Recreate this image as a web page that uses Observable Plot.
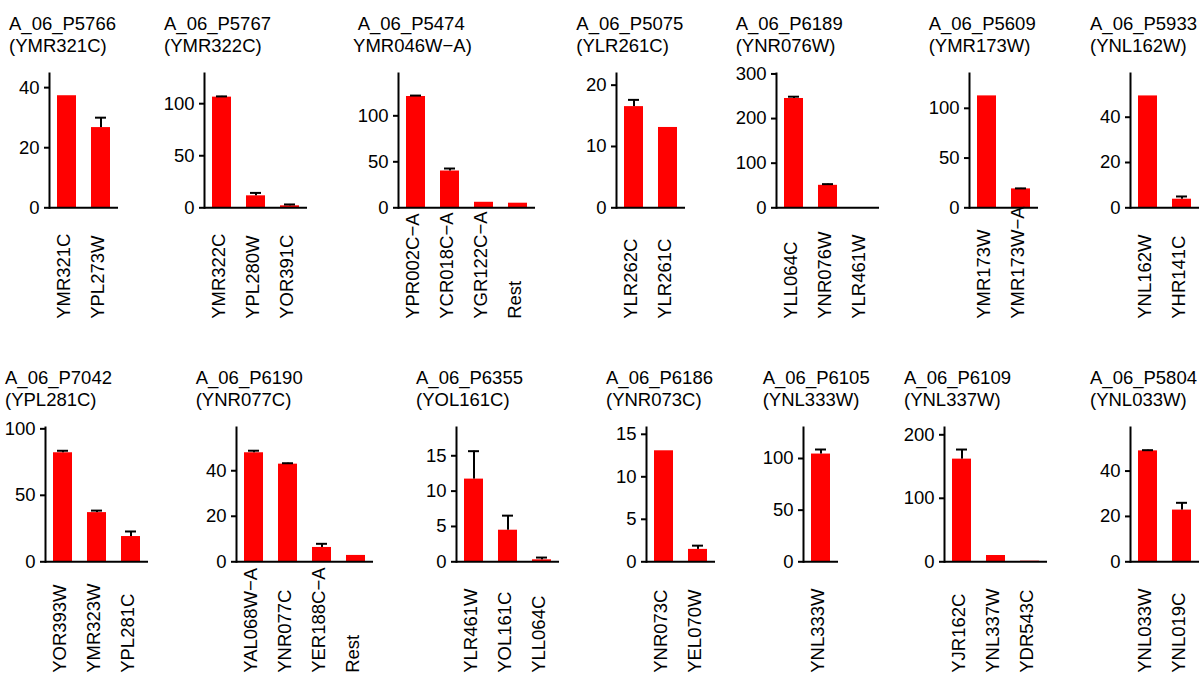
<!DOCTYPE html>
<html><head><meta charset="utf-8">
<script src="https://cdn.jsdelivr.net/npm/d3@7"></script>
<script src="https://cdn.jsdelivr.net/npm/@observablehq/plot@0.6"></script>
<style>
body{margin:0;background:#fff;}
#chart{position:relative;width:1200px;height:673px;overflow:hidden;background:#fff;font-family:"Liberation Sans",Arial,Helvetica,sans-serif;}
.title{position:absolute;font-size:18.5px;line-height:21.7px;white-space:nowrap;color:#000;}
.panel{position:absolute;}
.panel svg{max-width:none !important;}
</style></head><body><div id="chart"></div>
<script>
// ---- data ----
const probes = ["A_06_P5766","A_06_P5767","A_06_P5474","A_06_P5075","A_06_P6189","A_06_P5609","A_06_P5933",
                "A_06_P7042","A_06_P6190","A_06_P6355","A_06_P6186","A_06_P6105","A_06_P6109","A_06_P5804"];
const loci = ["(YMR321C)","(YMR322C)","YMR046W\u2212A)","(YLR261C)","(YNR076W)","(YMR173W)","(YNL162W)",
              "(YPL281C)","(YNR077C)","(YOL161C)","(YNR073C)","(YNL333W)","(YNL337W)","(YNL033W)"];
const genes = [
  ["YMR321C","YPL273W"],
  ["YMR322C","YPL280W","YOR391C"],
  ["YPR002C\u2212A","YCR018C\u2212A","YGR122C\u2212A","Rest"],
  ["YLR262C","YLR261C"],
  ["YLL064C","YNR076W","YLR461W"],
  ["YMR173W","YMR173W\u2212A"],
  ["YNL162W","YHR141C"],
  ["YOR393W","YMR323W","YPL281C"],
  ["YAL068W\u2212A","YNR077C","YER188C\u2212A","Rest"],
  ["YLR461W","YOL161C","YLL064C"],
  ["YNR073C","YEL070W"],
  ["YNL333W"],
  ["YJR162C","YNL337W","YDR543C"],
  ["YNL033W","YNL019C"]
];
const means = [
  [37.3, 26.7],
  [106.3, 11.5, 1.9],
  [121, 40, 6, 5],
  [16.5, 13.1],
  [245, 50.4, 0.5],
  [112.5, 19],
  [49.4, 3.8],
  [82, 37, 19],
  [47.9, 42.9, 6.3, 2.8],
  [11.7, 4.47, 0.28],
  [13.06, 1.46],
  [104.3],
  [161.7, 9.9, 1],
  [48.9, 22.8]
];
const errs = [
  [0, 3.3],
  [0.7, 2.8, 1.3],
  [1, 2.7, 0, 0],
  [1.1, 0],
  [4, 2.6, 0],
  [0, 0.5],
  [0, 1.2],
  [1.5, 1.5, 3.8],
  [0.9, 0.4, 1.6, 0],
  [3.95, 2.06, 0.32],
  [0, 0.44],
  [4.4],
  [15.1, 0, 0],
  [0.3, 3.2]
];
const yTicks = [
  [0,20,40],[0,50,100],[0,50,100],[0,10,20],[0,100,200,300],[0,50,100],[0,20,40],
  [0,50,100],[0,20,40],[0,5,10,15],[0,5,10,15],[0,50,100],[0,100,200],[0,20,40]
];
const yMax = [44.7, 129, 146, 21.9, 301, 135, 59.3, 101, 59, 19, 15.8, 130, 211.5, 59.2];

// ---- layout ----
const axisLeft = [49, 204, 397.7, 616.3, 775.7, 968.7, 1130, 45, 235.7, 456, 646, 802.7, 944, 1130];
const line2Shift = [0,0,-4.6,0,0,0,0,0,0,0,0,0,0,0];
const rowOffset = 354;
const frameTop = 72.7, frameH = 134.3;
const mt = 10, mb = 116, ml = 40, mr = 10;
const step = 34, pIn = 0.44, pOut = 0.235;
const fontFam = "'Liberation Sans', Arial, Helvetica, sans-serif";

const chart = document.getElementById("chart");
probes.forEach((probe, i) => {
  const rowY = i < 7 ? 0 : rowOffset;
  const left = axisLeft[i] - ml;
  const t1 = document.createElement("div");
  t1.className = "title"; t1.textContent = probe;
  t1.style.left = left + "px"; t1.style.top = (rowY + 12.8) + "px";
  chart.appendChild(t1);
  const t2 = document.createElement("div");
  t2.className = "title"; t2.textContent = loci[i];
  t2.style.left = (left + line2Shift[i]) + "px"; t2.style.top = (rowY + 12.8 + 21.7) + "px";
  chart.appendChild(t2);

  const n = genes[i].length;
  const frameW = step * (n - pIn + 2 * pOut);
  const W = ml + frameW + mr, H = mt + frameH + mb;
  const data = genes[i].map((g, j) => ({gene: g, value: means[i][j], err: errs[i][j]}));
  const withErr = data.filter(d => d.err > 0);
  const svg = Plot.plot({
    width: W,
    height: H,
    marginTop: mt, marginBottom: mb, marginLeft: ml, marginRight: mr,
    style: {fontFamily: fontFam, fontSize: "18.5px", background: "transparent", overflow: "visible", color: "black", maxWidth: "none"},
    x: {domain: genes[i], paddingInner: pIn, paddingOuter: pOut, axis: null},
    y: {domain: [0, yMax[i]]},
    marks: [
      Plot.barY(data, {x: "gene", y: "value", fill: "#ff0000"}),
      Plot.ruleX(withErr, {x: "gene", y1: "value", y2: d => d.value + d.err, stroke: "black", strokeWidth: 2}),
      Plot.tickY(withErr, {x: "gene", y: d => d.value + d.err, stroke: "black", strokeWidth: 2, insetLeft: 4, insetRight: 4}),
      Plot.ruleY([0], {stroke: "black", strokeWidth: 2}),
      Plot.frame({anchor: "left", stroke: "black", strokeWidth: 2}),
      Plot.axisY(yTicks[i], {tickSize: 5, tickPadding: 5, strokeWidth: 2, fontSize: 18.5, label: null}),
      Plot.text(data, {x: "gene", text: "gene", frameAnchor: "bottom", rotate: -90, textAnchor: "start",
                       lineAnchor: "middle", dy: 111, dx: -2.5, fontSize: 18.5, fill: "black"})
    ]
  });
  svg.style.width = W + "px";
  svg.style.height = H + "px";
  const wrap = document.createElement("div");
  wrap.className = "panel";
  wrap.style.left = left + "px";
  wrap.style.top = (rowY + frameTop - mt) + "px";
  wrap.style.width = W + "px";
  wrap.appendChild(svg);
  chart.appendChild(wrap);
});
</script>
</body></html>
